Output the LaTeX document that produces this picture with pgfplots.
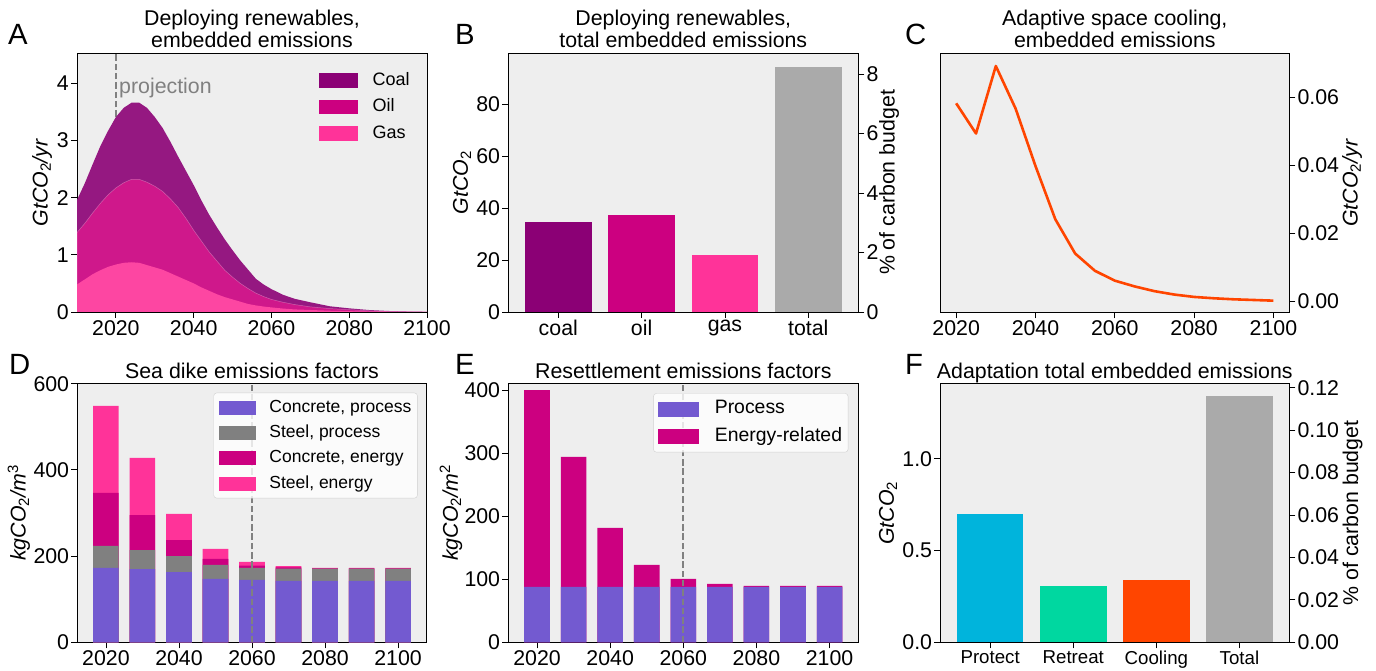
\documentclass[border=0pt]{standalone}
\usepackage{fontspec}
\setmainfont{Liberation Sans}
\usepackage{pgfplots}
\pgfplotsset{compat=1.18}
\definecolor{bg}{HTML}{EEEEEE}
\definecolor{coal}{HTML}{8B0075}
\definecolor{oil}{HTML}{CC0080}
\definecolor{gas}{HTML}{FF3399}
\definecolor{coalA}{HTML}{951881}
\definecolor{oilA}{HTML}{CF188B}
\definecolor{gasA}{HTML}{FD46A2}
\definecolor{tot}{HTML}{AAAAAA}
\definecolor{cproc}{HTML}{735AD0}
\definecolor{sproc}{HTML}{808080}
\definecolor{cool}{HTML}{FF4500}
\definecolor{prot}{HTML}{00B4DC}
\definecolor{retr}{HTML}{00D7A0}
\definecolor{dgray}{HTML}{808080}
\definecolor{lframe}{HTML}{D0D0D0}

\newcommand{\patch}[4]{\addlegendimage{legend image code/.code={\fill[#1, fill opacity=1, sharp corners] (0pt,#3) rectangle (#2,#4);}}}

\pgfplotsset{
  base/.style={
    scale only axis,
    axis background/.style={fill=bg},
    axis line style={line width=0.9pt, black},
    every tick/.style={line width=0.9pt, black},
    tick align=outside,
    major tick length=6pt,
    xtick pos=left, ytick pos=left,
    tick label style={font=\fontsize{21.33}{25}\selectfont, inner sep=2pt},
    label style={font=\fontsize{21.33}{25}\selectfont},
    title style={font=\fontsize{21.33}{22.3}\selectfont, inner sep=0pt},
    every axis title shift=0pt,
    /pgf/number format/assume math mode=true,
    /pgf/number format/1000 sep={},
    scaled y ticks=false,
    legend cell align=left,
  },
  onetitle/.style={title style={at={(axis description cs:0.5,1)}, anchor=base, yshift=5.5pt}},
  twotitle/.style={title style={at={(axis description cs:0.5,1)}, anchor=south, align=center, yshift=5pt}},
  yrbar/.style={ybar, bar width=7, bar shift=0pt, draw=none, forget plot},
  dline/.style={sharp plot, dgray, line width=1.8pt, dash pattern=on 6.5pt off 2.8pt, forget plot},
}

\begin{document}
\begin{tikzpicture}
\useasboundingbox (0pt,0pt) rectangle (1376pt,671pt);

% ---------------- Panel A ----------------
\begin{axis}[base, twotitle, at={(77pt,359pt)}, anchor=south west, width=350pt, height=259pt,
  xmin=2010, xmax=2100, ymin=0, ymax=4.53,
  xtick={2020,2040,2060,2080,2100}, ytick={0,1,2,3,4},
  title={Deploying renewables,\\embedded emissions},
  ylabel={\textit{GtCO}\textsubscript{2}\textit{/yr}},
  ylabel style={at={(axis description cs:-0.1,0.5)}, anchor=center},
  legend style={at={(axis description cs:0.6914,0.935)}, anchor=north west, draw=none, fill=none,
    inner sep=0pt, row sep=6.5pt, column sep=14pt, font=\fontsize{18}{22}\selectfont,
    nodes={inner sep=1pt, text height=14pt, text depth=4pt}},
]
\addplot[dline] coordinates {(2020,0) (2020,4.53)};
\addplot[fill=coalA, draw=none, forget plot] table {
x y
2010 1.96
2012 2.25
2014 2.58
2016 2.90
2018 3.17
2020 3.41
2022 3.57
2024 3.66
2026 3.66
2028 3.57
2030 3.41
2032 3.22
2034 2.98
2036 2.72
2038 2.47
2040 2.22
2042 1.95
2044 1.70
2046 1.48
2048 1.27
2050 1.08
2052 0.90
2054 0.74
2056 0.58
2058 0.48
2060 0.40
2063 0.30
2066 0.23
2070 0.17
2075 0.10
2080 0.064
2085 0.035
2090 0.018
2095 0.008
2100 0.003
} \closedcycle;
\addplot[fill=oilA, draw=white, draw opacity=0.3, line width=0.5pt, forget plot] table {
x y
2010 1.39
2012 1.55
2014 1.73
2016 1.90
2018 2.05
2020 2.17
2022 2.26
2024 2.32
2026 2.32
2028 2.27
2030 2.20
2032 2.11
2034 1.98
2036 1.83
2038 1.64
2040 1.43
2042 1.24
2044 1.05
2046 0.89
2048 0.73
2050 0.61
2052 0.50
2054 0.41
2056 0.33
2058 0.27
2060 0.22
2063 0.17
2066 0.13
2070 0.09
2075 0.06
2080 0.04
2085 0.022
2090 0.012
2095 0.005
2100 0.002
} \closedcycle;
\addplot[fill=gasA, draw=none, forget plot] table {
x y
2010 0.48
2012 0.57
2014 0.66
2016 0.73
2018 0.79
2020 0.83
2022 0.86
2024 0.87
2026 0.86
2028 0.82
2030 0.78
2032 0.74
2034 0.68
2036 0.62
2038 0.56
2040 0.50
2042 0.43
2044 0.37
2046 0.31
2048 0.26
2050 0.22
2052 0.18
2054 0.14
2056 0.115
2058 0.095
2060 0.08
2063 0.06
2066 0.045
2070 0.035
2075 0.022
2080 0.014
2085 0.008
2090 0.004
2095 0.002
2100 0.001
} \closedcycle;
\node[anchor=base west, inner sep=0pt, text=dgray, font=\fontsize{21.33}{25}\selectfont] at (axis cs:2020.8,3.83) {projection};
\patch{coal}{38pt}{-6.75pt}{6.75pt}\addlegendentry{Coal}
\patch{oil}{38pt}{-6.75pt}{6.75pt}\addlegendentry{Oil}
\patch{gas}{38pt}{-6.75pt}{6.75pt}\addlegendentry{Gas}
\end{axis}

% ---------------- Panel B ----------------
\begin{axis}[base, twotitle, at={(508.3pt,359pt)}, anchor=south west, width=350pt, height=259pt,
  xmin=-0.6, xmax=3.6, ymin=0, ymax=99.8,
  xtick={0,1,2,3}, xticklabels={coal,oil,gas,total}, ytick={0,20,40,60,80},
  title={Deploying renewables,\\total embedded emissions},
  ylabel={\textit{GtCO}\textsubscript{2}},
  ylabel style={at={(axis description cs:-0.1323,0.5)}, anchor=center},
  ybar, bar width=0.8,
]
\addplot[fill=coal, draw=none, bar shift=0pt] coordinates {(0,34.8)};
\addplot[fill=oil, draw=none, bar shift=0pt] coordinates {(1,37.4)};
\addplot[fill=gas, draw=none, bar shift=0pt] coordinates {(2,22.0)};
\addplot[fill=tot, draw=none, bar shift=0pt] coordinates {(3,94.3)};
\end{axis}
\begin{axis}[base, axis background/.style={}, at={(508.3pt,359pt)}, anchor=south west, width=350pt, height=259pt,
  xmin=-0.6, xmax=3.6, ymin=0, ymax=8.71, axis x line=none, axis y line*=right,
  ytick pos=right, yticklabel pos=right,
  ytick={0,2,4,6,8},
  ylabel={\% of carbon budget},
  ylabel style={at={(axis description cs:1.0877,0.5)}, anchor=center},
]
\end{axis}

% ---------------- Panel C ----------------
\begin{axis}[base, twotitle, at={(940.3pt,358.7pt)}, anchor=south west, width=349pt, height=259pt,
  xmin=2016, xmax=2104, ymin=-0.00333, ymax=0.07305,
  xtick={2020,2040,2060,2080,2100}, ytick={0,0.02,0.04,0.06},
  ytick pos=right, yticklabel pos=right,
  yticklabel style={/pgf/number format/.cd, fixed, fixed zerofill, precision=2},
  title={Adaptive space cooling,\\embedded emissions},
  ylabel={\textit{GtCO}\textsubscript{2}\textit{/yr}},
  ylabel style={at={(axis description cs:1.1797,0.5)}, anchor=center},
]
\addplot[cool, line width=2.6pt, line join=round] table {
x y
2020 0.0583
2025 0.0494
2030 0.0693
2035 0.0567
2040 0.0398
2045 0.0241
2050 0.0140
2055 0.0089
2060 0.0060
2065 0.0043
2070 0.0029
2075 0.0019
2080 0.0012
2085 0.0008
2090 0.0005
2095 0.0003
2100 0.0001
};
\end{axis}

% ---------------- Panel D (cumulative tops of the stacked bars) ----------------
\begin{axis}[base, onetitle, at={(77.3pt,28.7pt)}, anchor=south west, width=349.4pt, height=258.6pt,
  xmin=2012.15, xmax=2107.85, ymin=0, ymax=600,
  xtick={2020,2040,2060,2080,2100}, ytick={0,200,400,600},
  title={Sea dike emissions factors},
  ylabel={\textit{kgCO}\textsubscript{2}\textit{/m}\textsuperscript{3}},
  ylabel style={at={(axis description cs:-0.1669,0.5)}, anchor=center},
  legend style={at={(axis description cs:0.974,0.965)}, anchor=north east, draw=lframe, fill=white, fill opacity=0.8, text opacity=1,
    rounded corners=3pt, inner sep=5pt, row sep=6pt, column sep=13.3pt, font=\fontsize{17.5}{21}\selectfont,
    nodes={inner sep=1pt, text height=13.3pt, text depth=4pt}},
]
\addplot[yrbar, fill=gas] coordinates {(2020,548.5) (2030,428) (2040,298) (2050,216.5) (2060,186.5) (2070,177) (2080,172.5) (2090,172.5) (2100,172.5)};
\addplot[yrbar, fill=oil] coordinates {(2020,346.5) (2030,295) (2040,237) (2050,193.5) (2060,178.1) (2070,174) (2080,171.7) (2090,171.7) (2100,171.7)};
\addplot[yrbar, fill=sproc] coordinates {(2020,223.5) (2030,214) (2040,200) (2050,179.5) (2060,172.6) (2070,171) (2080,171) (2090,171) (2100,171)};
\addplot[yrbar, fill=cproc] coordinates {(2020,172.5) (2030,170) (2040,163) (2050,147) (2060,144.6) (2070,142.3) (2080,142.3) (2090,142.3) (2100,142.3)};
\addplot[dline] coordinates {(2060,0) (2060,600)};
\patch{cproc}{36pt}{-6.5pt}{6.5pt}\addlegendentry{Concrete, process}
\patch{sproc}{36pt}{-6.5pt}{6.5pt}\addlegendentry{Steel, process}
\patch{oil}{36pt}{-6.5pt}{6.5pt}\addlegendentry{Concrete, energy}
\patch{gas}{36pt}{-6.5pt}{6.5pt}\addlegendentry{Steel, energy}
\end{axis}

% ---------------- Panel E (cumulative tops) ----------------
\begin{axis}[base, onetitle, at={(508.3pt,28.7pt)}, anchor=south west, width=350pt, height=258.6pt,
  xmin=2012.15, xmax=2107.85, ymin=0, ymax=411,
  xtick={2020,2040,2060,2080,2100}, ytick={0,100,200,300,400},
  title={Resettlement emissions factors},
  ylabel={\textit{kgCO}\textsubscript{2}\textit{/m}\textsuperscript{2}},
  ylabel style={at={(axis description cs:-0.1637,0.5)}, anchor=center},
  legend style={at={(axis description cs:0.9714,0.963)}, anchor=north east, draw=lframe, fill=white, fill opacity=0.8, text opacity=1,
    rounded corners=3pt, inner sep=5pt, row sep=6.7pt, column sep=15pt, font=\fontsize{19.4}{23}\selectfont,
    nodes={inner sep=1pt, text height=14.5pt, text depth=4.5pt}},
]
\addplot[yrbar, fill=oil] coordinates {(2020,400.9) (2030,294.6) (2040,181.7) (2050,122.9) (2060,100.7) (2070,92.7) (2080,89.5) (2090,89.5) (2100,89.5)};
\addplot[yrbar, fill=cproc] coordinates {(2020,87.9) (2030,87.9) (2040,87.9) (2050,87.9) (2060,87.9) (2070,87.9) (2080,87.9) (2090,87.9) (2100,87.9)};
\addplot[dline] coordinates {(2060,0) (2060,411)};
\patch{cproc}{40pt}{-7pt}{7pt}\addlegendentry{Process}
\patch{oil}{40pt}{-7pt}{7pt}\addlegendentry{Energy-related}
\end{axis}

% ---------------- Panel F ----------------
\begin{axis}[base, onetitle, at={(940.3pt,28.7pt)}, anchor=south west, width=349pt, height=258.6pt,
  xmin=-0.6, xmax=3.6, ymin=0, ymax=1.4083,
  xtick={0,1,2,3}, xticklabels={Protect,Retreat,Cooling,Total}, ytick={0,0.5,1},
  xticklabel style={font=\fontsize{18.7}{22}\selectfont},
  yticklabel style={/pgf/number format/.cd, fixed, fixed zerofill, precision=1},
  title={Adaptation total embedded emissions},
  ylabel={\textit{GtCO}\textsubscript{2}},
  ylabel style={at={(axis description cs:-0.1499,0.5)}, anchor=center},
  ybar, bar width=0.8,
]
\addplot[fill=prot, draw=none, bar shift=0pt] coordinates {(0,0.699)};
\addplot[fill=retr, draw=none, bar shift=0pt] coordinates {(1,0.307)};
\addplot[fill=cool, draw=none, bar shift=0pt] coordinates {(2,0.339)};
\addplot[fill=tot, draw=none, bar shift=0pt] coordinates {(3,1.343)};
\end{axis}
\begin{axis}[base, axis background/.style={}, at={(940.3pt,28.7pt)}, anchor=south west, width=349pt, height=258.6pt,
  xmin=-0.6, xmax=3.6, ymin=0, ymax=0.12188, axis x line=none, axis y line*=right,
  ytick pos=right, yticklabel pos=right,
  ytick={0,0.02,0.04,0.06,0.08,0.10,0.12},
  yticklabel style={/pgf/number format/.cd, fixed, fixed zerofill, precision=2},
  ylabel={\% of carbon budget},
  ylabel style={at={(axis description cs:1.1811,0.5)}, anchor=center},
]
\end{axis}

% panel letters
\node[anchor=base west, inner sep=0pt, font=\fontsize{29.3}{35}\selectfont] at (8pt,626pt) {A};
\node[anchor=base west, inner sep=0pt, font=\fontsize{29.3}{35}\selectfont] at (455pt,626pt) {B};
\node[anchor=base west, inner sep=0pt, font=\fontsize{29.3}{35}\selectfont] at (905pt,626pt) {C};
\node[anchor=base west, inner sep=0pt, font=\fontsize{29.3}{35}\selectfont] at (9pt,296pt) {D};
\node[anchor=base west, inner sep=0pt, font=\fontsize{29.3}{35}\selectfont] at (455pt,296pt) {E};
\node[anchor=base west, inner sep=0pt, font=\fontsize{29.3}{35}\selectfont] at (905pt,296pt) {F};
\end{tikzpicture}
\end{document}
